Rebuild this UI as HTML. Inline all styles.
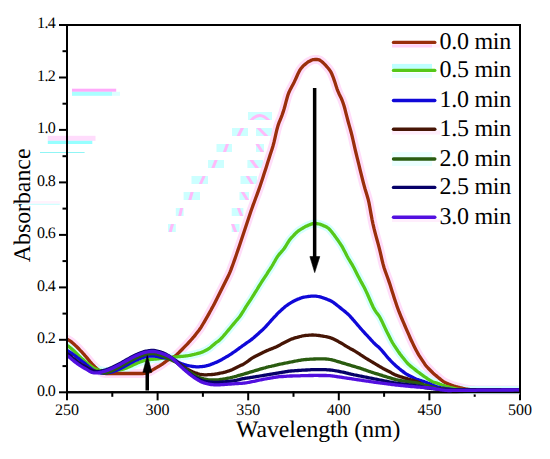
<!DOCTYPE html>
<html><head><meta charset="utf-8"><style>
html,body{margin:0;padding:0;background:#fff;width:550px;height:459px;overflow:hidden}
svg{display:block}
text{text-rendering:geometricPrecision}
</style></head><body>
<svg width="550" height="459" viewBox="0 0 550 459">
<rect width="550" height="459" fill="#fff"/>
<g stroke="none">
<rect x="72" y="88.7" width="44.2" height="3.1" fill="#FFAAFA"/>
<rect x="72" y="91.8" width="40" height="4" fill="#AAFFFF"/>
<rect x="112" y="91.8" width="8" height="4" fill="#DDFFFF"/>
<rect x="47.8" y="135.8" width="47.7" height="5" fill="#FFDCFC"/>
<rect x="47.8" y="140.8" width="44.5" height="3.2" fill="#96FFFF"/>
<rect x="40" y="152" width="44.6" height="1" fill="#90F5F5"/>
<rect x="15.3" y="203.5" width="44.5" height="1.5" fill="#D0FFFF"/>
<rect x="15.3" y="201" width="44.5" height="2.5" fill="#FFF2FC"/>
<defs><clipPath id="gr"><rect x="160" y="112" width="120" height="8"/><rect x="160" y="128" width="120" height="8"/><rect x="160" y="144" width="120" height="8"/><rect x="160" y="160" width="120" height="8"/><rect x="160" y="176" width="120" height="8"/><rect x="160" y="192" width="120" height="8"/><rect x="160" y="208" width="120" height="8"/><rect x="160" y="224" width="120" height="8"/></clipPath></defs>
<rect x="248" y="112" width="24.0" height="8" fill="#CCFFFF"/>
<rect x="232" y="128" width="16.0" height="8" fill="#CCFFFF"/>
<rect x="256" y="128" width="16.0" height="8" fill="#CCFFFF"/>
<rect x="216.5" y="144" width="15.5" height="8" fill="#CCFFFF"/>
<rect x="256" y="144" width="8.0" height="8" fill="#CCFFFF"/>
<rect x="208" y="160" width="16.0" height="8" fill="#CCFFFF"/>
<rect x="247.4" y="160" width="15.6" height="8" fill="#CCFFFF"/>
<rect x="191.5" y="176" width="16.5" height="8" fill="#CCFFFF"/>
<rect x="240.5" y="176" width="16.5" height="8" fill="#CCFFFF"/>
<rect x="183.6" y="192" width="16.4" height="8" fill="#CCFFFF"/>
<rect x="239.5" y="192" width="9.5" height="8" fill="#CCFFFF"/>
<rect x="175.8" y="208" width="7.8" height="8" fill="#CCFFFF"/>
<rect x="231.7" y="208" width="11.7" height="8" fill="#CCFFFF"/>
<rect x="168" y="224" width="7.8" height="8" fill="#CCFFFF"/>
<rect x="231.7" y="224" width="7.8" height="8" fill="#CCFFFF"/>
<g clip-path="url(#gr)" stroke="#FFBAF9" stroke-width="3" fill="none" stroke-linecap="butt">
<path d="M250.6,121 Q259.4,110 269.2,121"/>
<path d="M237.6,137.5 L243.0,126.5"/>
<path d="M256.9,126.5 L267.8,137.5"/>
<path d="M224.0,153.5 L228.0,142.5"/>
<path d="M256.2,142.5 L263.3,153.5"/>
<path d="M212.3,169.5 L216.7,158.5"/>
<path d="M250.2,158.5 L258.3,169.5"/>
<path d="M199.8,185.5 L204.7,174.5"/>
<path d="M246.5,174.5 L253.2,185.5"/>
<path d="M189.4,201.5 L192.5,190.5"/>
<path d="M241.6,190.5 L248.3,201.5"/>
<path d="M179.4,217.5 L181.9,206.5"/>
<path d="M237.9,206.5 L242.1,217.5"/>
<path d="M169.8,233.5 L172.9,222.5"/>
<path d="M232.0,222.5 L236.2,233.5"/>
</g>
</g>
<g stroke="#000" stroke-width="2" fill="none" stroke-linecap="square">
<path d="M67,25 H520 V392.3 H67 Z"/>
<path d="M60,392.3 H67"/>
<path d="M63.5,366.1 H67"/>
<path d="M60,339.8 H67"/>
<path d="M63.5,313.6 H67"/>
<path d="M60,287.4 H67"/>
<path d="M63.5,261.1 H67"/>
<path d="M60,234.9 H67"/>
<path d="M63.5,208.6 H67"/>
<path d="M60,182.4 H67"/>
<path d="M63.5,156.2 H67"/>
<path d="M60,129.9 H67"/>
<path d="M63.5,103.7 H67"/>
<path d="M60,77.5 H67"/>
<path d="M63.5,51.2 H67"/>
<path d="M60,25.0 H67"/>
<path d="M67.0,392.3 V399.3"/>
<path d="M112.3,392.3 V395.8"/>
<path d="M157.6,392.3 V399.3"/>
<path d="M202.9,392.3 V395.8"/>
<path d="M248.2,392.3 V399.3"/>
<path d="M293.5,392.3 V395.8"/>
<path d="M338.8,392.3 V399.3"/>
<path d="M384.1,392.3 V395.8"/>
<path d="M429.4,392.3 V399.3"/>
<path d="M474.7,392.3 V395.8"/>
<path d="M520.0,392.3 V399.3"/>
</g>
<g style="font-family:'Liberation Serif',serif;font-size:16px" fill="#000">
<text x="55" y="395.7" text-anchor="end" letter-spacing="-0.7">0.0</text>
<text x="55" y="343.2" text-anchor="end" letter-spacing="-0.7">0.2</text>
<text x="55" y="290.8" text-anchor="end" letter-spacing="-0.7">0.4</text>
<text x="55" y="238.3" text-anchor="end" letter-spacing="-0.7">0.6</text>
<text x="55" y="185.8" text-anchor="end" letter-spacing="-0.7">0.8</text>
<text x="55" y="133.3" text-anchor="end" letter-spacing="-0.7">1.0</text>
<text x="55" y="80.9" text-anchor="end" letter-spacing="-0.7">1.2</text>
<text x="55" y="28.4" text-anchor="end" letter-spacing="-0.7">1.4</text>
<text x="67.0" y="415" text-anchor="middle">250</text>
<text x="157.6" y="415" text-anchor="middle">300</text>
<text x="248.2" y="415" text-anchor="middle">350</text>
<text x="338.8" y="415" text-anchor="middle">400</text>
<text x="429.4" y="415" text-anchor="middle">450</text>
<text x="520.0" y="415" text-anchor="middle">500</text>
</g>
<defs><clipPath id="pa"><rect x="66" y="20" width="453.5" height="380"/></clipPath></defs>
<g fill="none" stroke-linejoin="round" stroke-linecap="round" clip-path="url(#pa)">
<path stroke="#FFDDF9" stroke-width="9" d="M67.0,339.3 L68.0,339.7 L69.0,340.3 L70.0,340.9 L71.0,341.6 L72.0,342.4 L73.0,343.3 L74.0,344.2 L75.0,345.1 L76.0,346.1 L77.0,347.0 L78.0,348.0 L79.0,349.0 L80.0,350.1 L81.0,351.1 L82.0,352.2 L83.0,353.3 L84.0,354.4 L85.0,355.6 L86.0,356.7 L87.0,357.9 L88.0,359.1 L89.0,360.4 L90.0,361.6 L91.0,362.7 L92.0,363.9 L93.0,364.9 L94.0,365.9 L95.0,366.9 L96.0,367.8 L97.0,368.8 L98.0,369.7 L99.0,370.5 L100.0,371.3 L101.0,372.1 L102.0,372.6 L103.0,373.0 L104.0,373.3 L105.0,373.4 L106.0,373.5 L107.0,373.5 L108.0,373.5 L109.0,373.5 L110.0,373.5 L111.0,373.5 L112.0,373.5 L113.0,373.5 L114.0,373.5 L115.0,373.5 L116.0,373.5 L117.0,373.5 L118.0,373.5 L119.0,373.5 L120.0,373.5 L121.0,373.5 L122.0,373.5 L123.0,373.5 L124.0,373.5 L125.0,373.5 L126.0,373.5 L127.0,373.5 L128.0,373.5 L129.0,373.5 L130.0,373.5 L131.0,373.5 L132.0,373.5 L133.0,373.5 L134.0,373.5 L135.0,373.5 L136.0,373.5 L137.0,373.5 L138.0,373.5 L139.0,373.5 L140.0,373.5 L141.0,373.5 L142.0,373.5 L143.0,373.5 L144.0,373.4 L145.0,373.3 L146.0,373.0 L147.0,372.7 L148.0,372.3 L149.0,371.9 L150.0,371.4 L151.0,370.9 L152.0,370.3 L153.0,369.7 L154.0,369.1 L155.0,368.5 L156.0,367.9 L157.0,367.3 L158.0,366.7 L159.0,366.2 L160.0,365.6 L161.0,364.9 L162.0,364.3 L163.0,363.6 L164.0,362.9 L165.0,362.1 L166.0,361.4 L167.0,360.7 L168.0,360.1 L169.0,359.5 L170.0,359.0 L171.0,358.4 L172.0,357.9 L173.0,357.3 L174.0,356.8 L175.0,356.1 L176.0,355.3 L177.0,354.4 L178.0,353.4 L179.0,352.5 L180.0,351.5 L181.0,350.5 L182.0,349.5 L183.0,348.5 L184.0,347.4 L185.0,346.4 L186.0,345.4 L187.0,344.4 L188.0,343.3 L189.0,342.2 L190.0,341.1 L191.0,340.0 L192.0,338.9 L193.0,337.7 L194.0,336.6 L195.0,335.4 L196.0,334.1 L197.0,332.8 L198.0,331.5 L199.0,330.2 L200.0,328.8 L201.0,327.3 L202.0,325.7 L203.0,324.0 L204.0,322.3 L205.0,320.6 L206.0,318.9 L207.0,317.2 L208.0,315.4 L209.0,313.6 L210.0,311.8 L211.0,310.0 L212.0,308.1 L213.0,306.3 L214.0,304.4 L215.0,302.5 L216.0,300.5 L217.0,298.6 L218.0,296.6 L219.0,294.6 L220.0,292.5 L221.0,290.5 L222.0,288.5 L223.0,286.5 L224.0,284.5 L225.0,282.5 L226.0,280.5 L227.0,278.5 L228.0,276.5 L229.0,274.4 L230.0,272.1 L231.0,269.6 L232.0,266.9 L233.0,264.2 L234.0,261.4 L235.0,258.6 L236.0,255.7 L237.0,252.8 L238.0,249.9 L239.0,246.9 L240.0,243.9 L241.0,240.9 L242.0,237.9 L243.0,234.9 L244.0,231.9 L245.0,228.9 L246.0,225.9 L247.0,222.9 L248.0,219.9 L249.0,216.9 L250.0,213.9 L251.0,211.0 L252.0,208.2 L253.0,205.4 L254.0,202.7 L255.0,200.0 L256.0,197.3 L257.0,194.6 L258.0,191.9 L259.0,189.1 L260.0,186.2 L261.0,183.3 L262.0,180.3 L263.0,177.2 L264.0,174.1 L265.0,171.0 L266.0,167.9 L267.0,164.7 L268.0,161.6 L269.0,158.4 L270.0,155.3 L271.0,152.3 L272.0,149.2 L273.0,145.9 L274.0,142.2 L275.0,137.9 L276.0,133.4 L277.0,129.2 L278.0,125.6 L279.0,122.7 L280.0,120.3 L281.0,117.9 L282.0,115.3 L283.0,112.4 L284.0,109.2 L285.0,105.7 L286.0,101.9 L287.0,98.2 L288.0,94.8 L289.0,92.2 L290.0,90.1 L291.0,88.2 L292.0,86.3 L293.0,84.4 L294.0,82.5 L295.0,80.4 L296.0,78.2 L297.0,76.0 L298.0,73.7 L299.0,71.7 L300.0,69.9 L301.0,68.5 L302.0,67.3 L303.0,66.2 L304.0,65.2 L305.0,64.4 L306.0,63.5 L307.0,62.8 L308.0,62.0 L309.0,61.4 L310.0,60.9 L311.0,60.4 L312.0,60.0 L313.0,59.7 L314.0,59.6 L315.0,59.5 L316.0,59.5 L317.0,59.5 L318.0,59.6 L319.0,59.8 L320.0,60.3 L321.0,61.0 L322.0,61.8 L323.0,62.6 L324.0,63.6 L325.0,64.6 L326.0,65.7 L327.0,66.9 L328.0,68.0 L329.0,69.2 L330.0,70.6 L331.0,72.2 L332.0,74.3 L333.0,76.8 L334.0,79.6 L335.0,82.6 L336.0,85.7 L337.0,88.8 L338.0,91.4 L339.0,93.7 L340.0,95.7 L341.0,97.7 L342.0,100.0 L343.0,102.7 L344.0,105.8 L345.0,109.3 L346.0,113.3 L347.0,117.2 L348.0,121.0 L349.0,124.6 L350.0,128.1 L351.0,131.8 L352.0,135.7 L353.0,140.0 L354.0,144.4 L355.0,148.8 L356.0,153.0 L357.0,157.1 L358.0,161.2 L359.0,165.2 L360.0,169.3 L361.0,173.3 L362.0,177.3 L363.0,181.3 L364.0,185.1 L365.0,188.8 L366.0,192.1 L367.0,195.2 L368.0,198.7 L369.0,202.9 L370.0,208.2 L371.0,213.9 L372.0,219.3 L373.0,224.1 L374.0,228.4 L375.0,232.3 L376.0,236.2 L377.0,239.8 L378.0,243.4 L379.0,247.2 L380.0,251.2 L381.0,255.4 L382.0,259.8 L383.0,263.9 L384.0,267.5 L385.0,270.5 L386.0,273.3 L387.0,276.0 L388.0,278.7 L389.0,281.6 L390.0,284.6 L391.0,287.8 L392.0,291.0 L393.0,294.1 L394.0,297.3 L395.0,300.3 L396.0,303.3 L397.0,306.2 L398.0,309.0 L399.0,311.7 L400.0,314.2 L401.0,316.6 L402.0,319.0 L403.0,321.3 L404.0,323.7 L405.0,326.0 L406.0,328.3 L407.0,330.6 L408.0,332.9 L409.0,335.2 L410.0,337.5 L411.0,339.7 L412.0,341.8 L413.0,343.9 L414.0,345.9 L415.0,347.9 L416.0,349.9 L417.0,351.8 L418.0,353.7 L419.0,355.4 L420.0,356.9 L421.0,358.4 L422.0,359.9 L423.0,361.4 L424.0,362.9 L425.0,364.4 L426.0,365.7 L427.0,366.9 L428.0,368.0 L429.0,369.0 L430.0,370.0 L431.0,371.0 L432.0,372.0 L433.0,373.0 L434.0,373.9 L435.0,374.8 L436.0,375.6 L437.0,376.4 L438.0,377.3 L439.0,378.1 L440.0,378.9 L441.0,379.7 L442.0,380.5 L443.0,381.3 L444.0,381.9 L445.0,382.5 L446.0,382.9 L447.0,383.4 L448.0,383.8 L449.0,384.2 L450.0,384.6 L451.0,385.0 L452.0,385.4 L453.0,385.7 L454.0,386.1 L455.0,386.4 L456.0,386.7 L457.0,386.9 L458.0,387.2 L459.0,387.4 L460.0,387.7 L461.0,387.9 L462.0,388.1 L463.0,388.4 L464.0,388.6 L465.0,388.8 L466.0,389.0 L467.0,389.2 L468.0,389.4 L469.0,389.5 L470.0,389.6 L471.0,389.7 L472.0,389.7 L473.0,389.8 L474.0,389.8 L475.0,389.9 L476.0,389.9 L477.0,389.9 L478.0,389.9 L479.0,389.9 L480.0,389.9 L481.0,389.9 L482.0,389.9 L483.0,389.9 L484.0,389.9 L485.0,389.9 L486.0,389.9 L487.0,389.9 L488.0,389.9 L489.0,389.9 L490.0,389.9 L491.0,389.9 L492.0,389.9 L493.0,389.9 L494.0,389.9 L495.0,389.9 L496.0,389.9 L497.0,389.9 L498.0,389.9 L499.0,389.9 L500.0,389.9 L501.0,389.9 L502.0,389.9 L503.0,389.9 L504.0,389.9 L505.0,389.9 L506.0,389.9 L507.0,389.9 L508.0,389.9 L509.0,389.9 L510.0,389.9 L511.0,389.9 L512.0,389.9 L513.0,389.9 L514.0,389.9 L515.0,389.9 L516.0,389.9 L517.0,389.9 L518.0,389.9 L519.0,389.9 L520.0,389.9"/>
<path stroke="#D6FFFF" stroke-width="8" d="M67.0,345.5 L68.0,346.0 L69.0,346.7 L70.0,347.5 L71.0,348.3 L72.0,349.2 L73.0,350.1 L74.0,351.0 L75.0,352.0 L76.0,353.0 L77.0,354.0 L78.0,355.0 L79.0,356.0 L80.0,356.9 L81.0,357.9 L82.0,358.8 L83.0,359.6 L84.0,360.5 L85.0,361.4 L86.0,362.2 L87.0,363.0 L88.0,363.9 L89.0,364.7 L90.0,365.4 L91.0,366.2 L92.0,366.9 L93.0,367.6 L94.0,368.2 L95.0,368.8 L96.0,369.2 L97.0,369.5 L98.0,369.8 L99.0,370.0 L100.0,370.3 L101.0,370.5 L102.0,370.6 L103.0,370.8 L104.0,370.9 L105.0,371.0 L106.0,371.0 L107.0,371.0 L108.0,371.0 L109.0,371.0 L110.0,370.9 L111.0,370.9 L112.0,370.8 L113.0,370.7 L114.0,370.6 L115.0,370.5 L116.0,370.4 L117.0,370.3 L118.0,370.2 L119.0,370.1 L120.0,369.9 L121.0,369.7 L122.0,369.4 L123.0,369.1 L124.0,368.8 L125.0,368.5 L126.0,368.1 L127.0,367.8 L128.0,367.3 L129.0,366.9 L130.0,366.5 L131.0,366.0 L132.0,365.6 L133.0,365.1 L134.0,364.6 L135.0,364.1 L136.0,363.7 L137.0,363.2 L138.0,362.8 L139.0,362.4 L140.0,362.0 L141.0,361.7 L142.0,361.3 L143.0,361.0 L144.0,360.7 L145.0,360.4 L146.0,360.2 L147.0,359.9 L148.0,359.8 L149.0,359.6 L150.0,359.5 L151.0,359.4 L152.0,359.3 L153.0,359.3 L154.0,359.2 L155.0,359.1 L156.0,359.0 L157.0,358.9 L158.0,358.8 L159.0,358.6 L160.0,358.5 L161.0,358.4 L162.0,358.3 L163.0,358.2 L164.0,358.1 L165.0,358.0 L166.0,357.9 L167.0,357.8 L168.0,357.7 L169.0,357.6 L170.0,357.5 L171.0,357.4 L172.0,357.3 L173.0,357.2 L174.0,357.1 L175.0,357.0 L176.0,356.9 L177.0,356.8 L178.0,356.7 L179.0,356.6 L180.0,356.5 L181.0,356.4 L182.0,356.3 L183.0,356.3 L184.0,356.2 L185.0,356.1 L186.0,355.9 L187.0,355.8 L188.0,355.7 L189.0,355.5 L190.0,355.3 L191.0,355.1 L192.0,354.9 L193.0,354.7 L194.0,354.5 L195.0,354.2 L196.0,354.0 L197.0,353.7 L198.0,353.4 L199.0,353.1 L200.0,352.9 L201.0,352.5 L202.0,352.2 L203.0,351.7 L204.0,351.3 L205.0,350.8 L206.0,350.3 L207.0,349.8 L208.0,349.1 L209.0,348.5 L210.0,347.8 L211.0,347.0 L212.0,346.1 L213.0,345.2 L214.0,344.4 L215.0,343.5 L216.0,342.7 L217.0,342.0 L218.0,341.3 L219.0,340.6 L220.0,339.7 L221.0,338.7 L222.0,337.6 L223.0,336.5 L224.0,335.3 L225.0,334.2 L226.0,333.0 L227.0,331.8 L228.0,330.6 L229.0,329.4 L230.0,328.2 L231.0,327.0 L232.0,325.8 L233.0,324.6 L234.0,323.4 L235.0,322.2 L236.0,321.0 L237.0,319.9 L238.0,318.7 L239.0,317.5 L240.0,316.2 L241.0,314.8 L242.0,313.2 L243.0,311.6 L244.0,310.0 L245.0,308.3 L246.0,306.7 L247.0,305.2 L248.0,303.6 L249.0,302.1 L250.0,300.6 L251.0,299.1 L252.0,297.5 L253.0,295.9 L254.0,294.3 L255.0,292.7 L256.0,291.1 L257.0,289.5 L258.0,287.8 L259.0,286.2 L260.0,284.6 L261.0,283.0 L262.0,281.4 L263.0,279.8 L264.0,278.3 L265.0,276.8 L266.0,275.3 L267.0,273.8 L268.0,272.2 L269.0,270.7 L270.0,269.2 L271.0,267.6 L272.0,266.0 L273.0,264.3 L274.0,262.5 L275.0,260.8 L276.0,259.0 L277.0,257.4 L278.0,255.9 L279.0,254.6 L280.0,253.4 L281.0,252.3 L282.0,251.1 L283.0,250.0 L284.0,248.7 L285.0,247.3 L286.0,245.7 L287.0,244.0 L288.0,242.3 L289.0,240.8 L290.0,239.4 L291.0,238.2 L292.0,237.1 L293.0,236.1 L294.0,235.0 L295.0,234.0 L296.0,232.9 L297.0,232.0 L298.0,231.2 L299.0,230.4 L300.0,229.8 L301.0,229.2 L302.0,228.6 L303.0,228.0 L304.0,227.4 L305.0,226.8 L306.0,226.3 L307.0,225.9 L308.0,225.4 L309.0,225.0 L310.0,224.6 L311.0,224.2 L312.0,223.9 L313.0,223.6 L314.0,223.4 L315.0,223.4 L316.0,223.5 L317.0,223.6 L318.0,223.8 L319.0,224.0 L320.0,224.2 L321.0,224.6 L322.0,225.0 L323.0,225.4 L324.0,225.9 L325.0,226.3 L326.0,226.8 L327.0,227.3 L328.0,228.0 L329.0,228.8 L330.0,229.9 L331.0,231.0 L332.0,232.3 L333.0,233.6 L334.0,234.8 L335.0,236.2 L336.0,237.6 L337.0,239.0 L338.0,240.4 L339.0,241.9 L340.0,243.3 L341.0,244.8 L342.0,246.4 L343.0,248.2 L344.0,250.2 L345.0,252.1 L346.0,254.1 L347.0,256.0 L348.0,257.8 L349.0,259.5 L350.0,261.2 L351.0,262.8 L352.0,264.4 L353.0,266.2 L354.0,268.1 L355.0,270.0 L356.0,272.0 L357.0,274.0 L358.0,275.9 L359.0,277.8 L360.0,279.7 L361.0,281.6 L362.0,283.4 L363.0,285.2 L364.0,287.1 L365.0,289.0 L366.0,291.1 L367.0,293.2 L368.0,295.5 L369.0,297.7 L370.0,300.0 L371.0,302.3 L372.0,304.5 L373.0,306.7 L374.0,308.7 L375.0,310.4 L376.0,311.9 L377.0,313.2 L378.0,314.5 L379.0,315.9 L380.0,317.5 L381.0,319.4 L382.0,321.4 L383.0,323.6 L384.0,325.7 L385.0,327.9 L386.0,330.0 L387.0,332.1 L388.0,334.1 L389.0,336.1 L390.0,338.1 L391.0,340.0 L392.0,341.8 L393.0,343.5 L394.0,345.1 L395.0,346.6 L396.0,348.1 L397.0,349.6 L398.0,351.1 L399.0,352.5 L400.0,354.0 L401.0,355.3 L402.0,356.6 L403.0,357.8 L404.0,359.0 L405.0,360.3 L406.0,361.5 L407.0,362.7 L408.0,363.8 L409.0,364.7 L410.0,365.6 L411.0,366.4 L412.0,367.2 L413.0,368.0 L414.0,368.8 L415.0,369.6 L416.0,370.4 L417.0,371.2 L418.0,372.0 L419.0,372.7 L420.0,373.4 L421.0,374.2 L422.0,374.9 L423.0,375.6 L424.0,376.3 L425.0,377.0 L426.0,377.7 L427.0,378.4 L428.0,379.1 L429.0,379.7 L430.0,380.3 L431.0,380.9 L432.0,381.5 L433.0,382.0 L434.0,382.3 L435.0,382.6 L436.0,382.9 L437.0,383.2 L438.0,383.5 L439.0,383.9 L440.0,384.3 L441.0,384.6 L442.0,385.0 L443.0,385.3 L444.0,385.6 L445.0,386.0 L446.0,386.3 L447.0,386.6 L448.0,386.9 L449.0,387.2 L450.0,387.5 L451.0,387.7 L452.0,387.9 L453.0,388.2 L454.0,388.4 L455.0,388.6 L456.0,388.8 L457.0,389.0 L458.0,389.2 L459.0,389.3 L460.0,389.4 L461.0,389.5 L462.0,389.5 L463.0,389.6 L464.0,389.7 L465.0,389.7 L466.0,389.8 L467.0,389.8 L468.0,389.9 L469.0,389.9 L470.0,389.9 L471.0,389.9 L472.0,389.9 L473.0,389.9 L474.0,389.9 L475.0,389.9 L476.0,389.9 L477.0,389.9 L478.0,389.9 L479.0,389.9 L480.0,389.9 L481.0,389.9 L482.0,389.9 L483.0,389.9 L484.0,389.9 L485.0,389.9 L486.0,389.9 L487.0,389.9 L488.0,389.9 L489.0,389.9 L490.0,389.9 L491.0,389.9 L492.0,389.9 L493.0,389.9 L494.0,389.9 L495.0,389.9 L496.0,389.9 L497.0,389.9 L498.0,389.9 L499.0,389.9 L500.0,389.9 L501.0,389.9 L502.0,389.9 L503.0,389.9 L504.0,389.9 L505.0,389.9 L506.0,389.9 L507.0,389.9 L508.0,389.9 L509.0,389.9 L510.0,389.9 L511.0,389.9 L512.0,389.9 L513.0,389.9 L514.0,389.9 L515.0,389.9 L516.0,389.9 L517.0,389.9 L518.0,389.9 L519.0,389.9 L520.0,389.9"/>
</g>
<path d="M66,392.3 H521" stroke="#000" stroke-width="2" fill="none"/>
<g fill="none" stroke-width="3.3" stroke-linejoin="round" stroke-linecap="butt" clip-path="url(#pa)">
<path stroke="#9A2E0C" d="M67.0,339.3 L68.0,339.7 L69.0,340.3 L70.0,340.9 L71.0,341.6 L72.0,342.4 L73.0,343.3 L74.0,344.2 L75.0,345.1 L76.0,346.1 L77.0,347.0 L78.0,348.0 L79.0,349.0 L80.0,350.1 L81.0,351.1 L82.0,352.2 L83.0,353.3 L84.0,354.4 L85.0,355.6 L86.0,356.7 L87.0,357.9 L88.0,359.1 L89.0,360.4 L90.0,361.6 L91.0,362.7 L92.0,363.9 L93.0,364.9 L94.0,365.9 L95.0,366.9 L96.0,367.8 L97.0,368.8 L98.0,369.7 L99.0,370.5 L100.0,371.3 L101.0,372.1 L102.0,372.6 L103.0,373.0 L104.0,373.3 L105.0,373.4 L106.0,373.5 L107.0,373.5 L108.0,373.5 L109.0,373.5 L110.0,373.5 L111.0,373.5 L112.0,373.5 L113.0,373.5 L114.0,373.5 L115.0,373.5 L116.0,373.5 L117.0,373.5 L118.0,373.5 L119.0,373.5 L120.0,373.5 L121.0,373.5 L122.0,373.5 L123.0,373.5 L124.0,373.5 L125.0,373.5 L126.0,373.5 L127.0,373.5 L128.0,373.5 L129.0,373.5 L130.0,373.5 L131.0,373.5 L132.0,373.5 L133.0,373.5 L134.0,373.5 L135.0,373.5 L136.0,373.5 L137.0,373.5 L138.0,373.5 L139.0,373.5 L140.0,373.5 L141.0,373.5 L142.0,373.5 L143.0,373.5 L144.0,373.4 L145.0,373.3 L146.0,373.0 L147.0,372.7 L148.0,372.3 L149.0,371.9 L150.0,371.4 L151.0,370.9 L152.0,370.3 L153.0,369.7 L154.0,369.1 L155.0,368.5 L156.0,367.9 L157.0,367.3 L158.0,366.7 L159.0,366.2 L160.0,365.6 L161.0,364.9 L162.0,364.3 L163.0,363.6 L164.0,362.9 L165.0,362.1 L166.0,361.4 L167.0,360.7 L168.0,360.1 L169.0,359.5 L170.0,359.0 L171.0,358.4 L172.0,357.9 L173.0,357.3 L174.0,356.8 L175.0,356.1 L176.0,355.3 L177.0,354.4 L178.0,353.4 L179.0,352.5 L180.0,351.5 L181.0,350.5 L182.0,349.5 L183.0,348.5 L184.0,347.4 L185.0,346.4 L186.0,345.4 L187.0,344.4 L188.0,343.3 L189.0,342.2 L190.0,341.1 L191.0,340.0 L192.0,338.9 L193.0,337.7 L194.0,336.6 L195.0,335.4 L196.0,334.1 L197.0,332.8 L198.0,331.5 L199.0,330.2 L200.0,328.8 L201.0,327.3 L202.0,325.7 L203.0,324.0 L204.0,322.3 L205.0,320.6 L206.0,318.9 L207.0,317.2 L208.0,315.4 L209.0,313.6 L210.0,311.8 L211.0,310.0 L212.0,308.1 L213.0,306.3 L214.0,304.4 L215.0,302.5 L216.0,300.5 L217.0,298.6 L218.0,296.6 L219.0,294.6 L220.0,292.5 L221.0,290.5 L222.0,288.5 L223.0,286.5 L224.0,284.5 L225.0,282.5 L226.0,280.5 L227.0,278.5 L228.0,276.5 L229.0,274.4 L230.0,272.1 L231.0,269.6 L232.0,266.9 L233.0,264.2 L234.0,261.4 L235.0,258.6 L236.0,255.7 L237.0,252.8 L238.0,249.9 L239.0,246.9 L240.0,243.9 L241.0,240.9 L242.0,237.9 L243.0,234.9 L244.0,231.9 L245.0,228.9 L246.0,225.9 L247.0,222.9 L248.0,219.9 L249.0,216.9 L250.0,213.9 L251.0,211.0 L252.0,208.2 L253.0,205.4 L254.0,202.7 L255.0,200.0 L256.0,197.3 L257.0,194.6 L258.0,191.9 L259.0,189.1 L260.0,186.2 L261.0,183.3 L262.0,180.3 L263.0,177.2 L264.0,174.1 L265.0,171.0 L266.0,167.9 L267.0,164.7 L268.0,161.6 L269.0,158.4 L270.0,155.3 L271.0,152.3 L272.0,149.2 L273.0,145.9 L274.0,142.2 L275.0,137.9 L276.0,133.4 L277.0,129.2 L278.0,125.6 L279.0,122.7 L280.0,120.3 L281.0,117.9 L282.0,115.3 L283.0,112.4 L284.0,109.2 L285.0,105.7 L286.0,101.9 L287.0,98.2 L288.0,94.8 L289.0,92.2 L290.0,90.1 L291.0,88.2 L292.0,86.3 L293.0,84.4 L294.0,82.5 L295.0,80.4 L296.0,78.2 L297.0,76.0 L298.0,73.7 L299.0,71.7 L300.0,69.9 L301.0,68.5 L302.0,67.3 L303.0,66.2 L304.0,65.2 L305.0,64.4 L306.0,63.5 L307.0,62.8 L308.0,62.0 L309.0,61.4 L310.0,60.9 L311.0,60.4 L312.0,60.0 L313.0,59.7 L314.0,59.6 L315.0,59.5 L316.0,59.5 L317.0,59.5 L318.0,59.6 L319.0,59.8 L320.0,60.3 L321.0,61.0 L322.0,61.8 L323.0,62.6 L324.0,63.6 L325.0,64.6 L326.0,65.7 L327.0,66.9 L328.0,68.0 L329.0,69.2 L330.0,70.6 L331.0,72.2 L332.0,74.3 L333.0,76.8 L334.0,79.6 L335.0,82.6 L336.0,85.7 L337.0,88.8 L338.0,91.4 L339.0,93.7 L340.0,95.7 L341.0,97.7 L342.0,100.0 L343.0,102.7 L344.0,105.8 L345.0,109.3 L346.0,113.3 L347.0,117.2 L348.0,121.0 L349.0,124.6 L350.0,128.1 L351.0,131.8 L352.0,135.7 L353.0,140.0 L354.0,144.4 L355.0,148.8 L356.0,153.0 L357.0,157.1 L358.0,161.2 L359.0,165.2 L360.0,169.3 L361.0,173.3 L362.0,177.3 L363.0,181.3 L364.0,185.1 L365.0,188.8 L366.0,192.1 L367.0,195.2 L368.0,198.7 L369.0,202.9 L370.0,208.2 L371.0,213.9 L372.0,219.3 L373.0,224.1 L374.0,228.4 L375.0,232.3 L376.0,236.2 L377.0,239.8 L378.0,243.4 L379.0,247.2 L380.0,251.2 L381.0,255.4 L382.0,259.8 L383.0,263.9 L384.0,267.5 L385.0,270.5 L386.0,273.3 L387.0,276.0 L388.0,278.7 L389.0,281.6 L390.0,284.6 L391.0,287.8 L392.0,291.0 L393.0,294.1 L394.0,297.3 L395.0,300.3 L396.0,303.3 L397.0,306.2 L398.0,309.0 L399.0,311.7 L400.0,314.2 L401.0,316.6 L402.0,319.0 L403.0,321.3 L404.0,323.7 L405.0,326.0 L406.0,328.3 L407.0,330.6 L408.0,332.9 L409.0,335.2 L410.0,337.5 L411.0,339.7 L412.0,341.8 L413.0,343.9 L414.0,345.9 L415.0,347.9 L416.0,349.9 L417.0,351.8 L418.0,353.7 L419.0,355.4 L420.0,356.9 L421.0,358.4 L422.0,359.9 L423.0,361.4 L424.0,362.9 L425.0,364.4 L426.0,365.7 L427.0,366.9 L428.0,368.0 L429.0,369.0 L430.0,370.0 L431.0,371.0 L432.0,372.0 L433.0,373.0 L434.0,373.9 L435.0,374.8 L436.0,375.6 L437.0,376.4 L438.0,377.3 L439.0,378.1 L440.0,378.9 L441.0,379.7 L442.0,380.5 L443.0,381.3 L444.0,381.9 L445.0,382.5 L446.0,382.9 L447.0,383.4 L448.0,383.8 L449.0,384.2 L450.0,384.6 L451.0,385.0 L452.0,385.4 L453.0,385.7 L454.0,386.1 L455.0,386.4 L456.0,386.7 L457.0,386.9 L458.0,387.2 L459.0,387.4 L460.0,387.7 L461.0,387.9 L462.0,388.1 L463.0,388.4 L464.0,388.6 L465.0,388.8 L466.0,389.0 L467.0,389.2 L468.0,389.4 L469.0,389.5 L470.0,389.6 L471.0,389.7 L472.0,389.7 L473.0,389.8 L474.0,389.8 L475.0,389.9 L476.0,389.9 L477.0,389.9 L478.0,389.9 L479.0,389.9 L480.0,389.9 L481.0,389.9 L482.0,389.9 L483.0,389.9 L484.0,389.9 L485.0,389.9 L486.0,389.9 L487.0,389.9 L488.0,389.9 L489.0,389.9 L490.0,389.9 L491.0,389.9 L492.0,389.9 L493.0,389.9 L494.0,389.9 L495.0,389.9 L496.0,389.9 L497.0,389.9 L498.0,389.9 L499.0,389.9 L500.0,389.9 L501.0,389.9 L502.0,389.9 L503.0,389.9 L504.0,389.9 L505.0,389.9 L506.0,389.9 L507.0,389.9 L508.0,389.9 L509.0,389.9 L510.0,389.9 L511.0,389.9 L512.0,389.9 L513.0,389.9 L514.0,389.9 L515.0,389.9 L516.0,389.9 L517.0,389.9 L518.0,389.9 L519.0,389.9 L520.0,389.9"/>
<path stroke="#55C819" d="M67.0,345.5 L68.0,346.0 L69.0,346.7 L70.0,347.5 L71.0,348.3 L72.0,349.2 L73.0,350.1 L74.0,351.0 L75.0,352.0 L76.0,353.0 L77.0,354.0 L78.0,355.0 L79.0,356.0 L80.0,356.9 L81.0,357.9 L82.0,358.8 L83.0,359.6 L84.0,360.5 L85.0,361.4 L86.0,362.2 L87.0,363.0 L88.0,363.9 L89.0,364.7 L90.0,365.4 L91.0,366.2 L92.0,366.9 L93.0,367.6 L94.0,368.2 L95.0,368.8 L96.0,369.2 L97.0,369.5 L98.0,369.8 L99.0,370.0 L100.0,370.3 L101.0,370.5 L102.0,370.6 L103.0,370.8 L104.0,370.9 L105.0,371.0 L106.0,371.0 L107.0,371.0 L108.0,371.0 L109.0,371.0 L110.0,370.9 L111.0,370.9 L112.0,370.8 L113.0,370.7 L114.0,370.6 L115.0,370.5 L116.0,370.4 L117.0,370.3 L118.0,370.2 L119.0,370.1 L120.0,369.9 L121.0,369.7 L122.0,369.4 L123.0,369.1 L124.0,368.8 L125.0,368.5 L126.0,368.1 L127.0,367.8 L128.0,367.3 L129.0,366.9 L130.0,366.5 L131.0,366.0 L132.0,365.6 L133.0,365.1 L134.0,364.6 L135.0,364.1 L136.0,363.7 L137.0,363.2 L138.0,362.8 L139.0,362.4 L140.0,362.0 L141.0,361.7 L142.0,361.3 L143.0,361.0 L144.0,360.7 L145.0,360.4 L146.0,360.2 L147.0,359.9 L148.0,359.8 L149.0,359.6 L150.0,359.5 L151.0,359.4 L152.0,359.3 L153.0,359.3 L154.0,359.2 L155.0,359.1 L156.0,359.0 L157.0,358.9 L158.0,358.8 L159.0,358.6 L160.0,358.5 L161.0,358.4 L162.0,358.3 L163.0,358.2 L164.0,358.1 L165.0,358.0 L166.0,357.9 L167.0,357.8 L168.0,357.7 L169.0,357.6 L170.0,357.5 L171.0,357.4 L172.0,357.3 L173.0,357.2 L174.0,357.1 L175.0,357.0 L176.0,356.9 L177.0,356.8 L178.0,356.7 L179.0,356.6 L180.0,356.5 L181.0,356.4 L182.0,356.3 L183.0,356.3 L184.0,356.2 L185.0,356.1 L186.0,355.9 L187.0,355.8 L188.0,355.7 L189.0,355.5 L190.0,355.3 L191.0,355.1 L192.0,354.9 L193.0,354.7 L194.0,354.5 L195.0,354.2 L196.0,354.0 L197.0,353.7 L198.0,353.4 L199.0,353.1 L200.0,352.9 L201.0,352.5 L202.0,352.2 L203.0,351.7 L204.0,351.3 L205.0,350.8 L206.0,350.3 L207.0,349.8 L208.0,349.1 L209.0,348.5 L210.0,347.8 L211.0,347.0 L212.0,346.1 L213.0,345.2 L214.0,344.4 L215.0,343.5 L216.0,342.7 L217.0,342.0 L218.0,341.3 L219.0,340.6 L220.0,339.7 L221.0,338.7 L222.0,337.6 L223.0,336.5 L224.0,335.3 L225.0,334.2 L226.0,333.0 L227.0,331.8 L228.0,330.6 L229.0,329.4 L230.0,328.2 L231.0,327.0 L232.0,325.8 L233.0,324.6 L234.0,323.4 L235.0,322.2 L236.0,321.0 L237.0,319.9 L238.0,318.7 L239.0,317.5 L240.0,316.2 L241.0,314.8 L242.0,313.2 L243.0,311.6 L244.0,310.0 L245.0,308.3 L246.0,306.7 L247.0,305.2 L248.0,303.6 L249.0,302.1 L250.0,300.6 L251.0,299.1 L252.0,297.5 L253.0,295.9 L254.0,294.3 L255.0,292.7 L256.0,291.1 L257.0,289.5 L258.0,287.8 L259.0,286.2 L260.0,284.6 L261.0,283.0 L262.0,281.4 L263.0,279.8 L264.0,278.3 L265.0,276.8 L266.0,275.3 L267.0,273.8 L268.0,272.2 L269.0,270.7 L270.0,269.2 L271.0,267.6 L272.0,266.0 L273.0,264.3 L274.0,262.5 L275.0,260.8 L276.0,259.0 L277.0,257.4 L278.0,255.9 L279.0,254.6 L280.0,253.4 L281.0,252.3 L282.0,251.1 L283.0,250.0 L284.0,248.7 L285.0,247.3 L286.0,245.7 L287.0,244.0 L288.0,242.3 L289.0,240.8 L290.0,239.4 L291.0,238.2 L292.0,237.1 L293.0,236.1 L294.0,235.0 L295.0,234.0 L296.0,232.9 L297.0,232.0 L298.0,231.2 L299.0,230.4 L300.0,229.8 L301.0,229.2 L302.0,228.6 L303.0,228.0 L304.0,227.4 L305.0,226.8 L306.0,226.3 L307.0,225.9 L308.0,225.4 L309.0,225.0 L310.0,224.6 L311.0,224.2 L312.0,223.9 L313.0,223.6 L314.0,223.4 L315.0,223.4 L316.0,223.5 L317.0,223.6 L318.0,223.8 L319.0,224.0 L320.0,224.2 L321.0,224.6 L322.0,225.0 L323.0,225.4 L324.0,225.9 L325.0,226.3 L326.0,226.8 L327.0,227.3 L328.0,228.0 L329.0,228.8 L330.0,229.9 L331.0,231.0 L332.0,232.3 L333.0,233.6 L334.0,234.8 L335.0,236.2 L336.0,237.6 L337.0,239.0 L338.0,240.4 L339.0,241.9 L340.0,243.3 L341.0,244.8 L342.0,246.4 L343.0,248.2 L344.0,250.2 L345.0,252.1 L346.0,254.1 L347.0,256.0 L348.0,257.8 L349.0,259.5 L350.0,261.2 L351.0,262.8 L352.0,264.4 L353.0,266.2 L354.0,268.1 L355.0,270.0 L356.0,272.0 L357.0,274.0 L358.0,275.9 L359.0,277.8 L360.0,279.7 L361.0,281.6 L362.0,283.4 L363.0,285.2 L364.0,287.1 L365.0,289.0 L366.0,291.1 L367.0,293.2 L368.0,295.5 L369.0,297.7 L370.0,300.0 L371.0,302.3 L372.0,304.5 L373.0,306.7 L374.0,308.7 L375.0,310.4 L376.0,311.9 L377.0,313.2 L378.0,314.5 L379.0,315.9 L380.0,317.5 L381.0,319.4 L382.0,321.4 L383.0,323.6 L384.0,325.7 L385.0,327.9 L386.0,330.0 L387.0,332.1 L388.0,334.1 L389.0,336.1 L390.0,338.1 L391.0,340.0 L392.0,341.8 L393.0,343.5 L394.0,345.1 L395.0,346.6 L396.0,348.1 L397.0,349.6 L398.0,351.1 L399.0,352.5 L400.0,354.0 L401.0,355.3 L402.0,356.6 L403.0,357.8 L404.0,359.0 L405.0,360.3 L406.0,361.5 L407.0,362.7 L408.0,363.8 L409.0,364.7 L410.0,365.6 L411.0,366.4 L412.0,367.2 L413.0,368.0 L414.0,368.8 L415.0,369.6 L416.0,370.4 L417.0,371.2 L418.0,372.0 L419.0,372.7 L420.0,373.4 L421.0,374.2 L422.0,374.9 L423.0,375.6 L424.0,376.3 L425.0,377.0 L426.0,377.7 L427.0,378.4 L428.0,379.1 L429.0,379.7 L430.0,380.3 L431.0,380.9 L432.0,381.5 L433.0,382.0 L434.0,382.3 L435.0,382.6 L436.0,382.9 L437.0,383.2 L438.0,383.5 L439.0,383.9 L440.0,384.3 L441.0,384.6 L442.0,385.0 L443.0,385.3 L444.0,385.6 L445.0,386.0 L446.0,386.3 L447.0,386.6 L448.0,386.9 L449.0,387.2 L450.0,387.5 L451.0,387.7 L452.0,387.9 L453.0,388.2 L454.0,388.4 L455.0,388.6 L456.0,388.8 L457.0,389.0 L458.0,389.2 L459.0,389.3 L460.0,389.4 L461.0,389.5 L462.0,389.5 L463.0,389.6 L464.0,389.7 L465.0,389.7 L466.0,389.8 L467.0,389.8 L468.0,389.9 L469.0,389.9 L470.0,389.9 L471.0,389.9 L472.0,389.9 L473.0,389.9 L474.0,389.9 L475.0,389.9 L476.0,389.9 L477.0,389.9 L478.0,389.9 L479.0,389.9 L480.0,389.9 L481.0,389.9 L482.0,389.9 L483.0,389.9 L484.0,389.9 L485.0,389.9 L486.0,389.9 L487.0,389.9 L488.0,389.9 L489.0,389.9 L490.0,389.9 L491.0,389.9 L492.0,389.9 L493.0,389.9 L494.0,389.9 L495.0,389.9 L496.0,389.9 L497.0,389.9 L498.0,389.9 L499.0,389.9 L500.0,389.9 L501.0,389.9 L502.0,389.9 L503.0,389.9 L504.0,389.9 L505.0,389.9 L506.0,389.9 L507.0,389.9 L508.0,389.9 L509.0,389.9 L510.0,389.9 L511.0,389.9 L512.0,389.9 L513.0,389.9 L514.0,389.9 L515.0,389.9 L516.0,389.9 L517.0,389.9 L518.0,389.9 L519.0,389.9 L520.0,389.9"/>
<path stroke="#1008D8" d="M67.0,350.6 L68.0,351.0 L69.0,351.6 L70.0,352.2 L71.0,352.8 L72.0,353.6 L73.0,354.3 L74.0,355.0 L75.0,355.8 L76.0,356.6 L77.0,357.4 L78.0,358.1 L79.0,358.9 L80.0,359.7 L81.0,360.5 L82.0,361.3 L83.0,362.0 L84.0,362.8 L85.0,363.6 L86.0,364.5 L87.0,365.3 L88.0,366.2 L89.0,367.0 L90.0,367.8 L91.0,368.6 L92.0,369.3 L93.0,370.0 L94.0,370.6 L95.0,371.2 L96.0,371.7 L97.0,372.1 L98.0,372.4 L99.0,372.7 L100.0,372.9 L101.0,373.0 L102.0,373.1 L103.0,373.1 L104.0,373.1 L105.0,373.0 L106.0,372.9 L107.0,372.8 L108.0,372.7 L109.0,372.5 L110.0,372.3 L111.0,372.1 L112.0,371.9 L113.0,371.6 L114.0,371.2 L115.0,370.9 L116.0,370.5 L117.0,370.2 L118.0,369.8 L119.0,369.3 L120.0,368.8 L121.0,368.3 L122.0,367.8 L123.0,367.2 L124.0,366.7 L125.0,366.1 L126.0,365.5 L127.0,365.0 L128.0,364.4 L129.0,363.9 L130.0,363.3 L131.0,362.8 L132.0,362.3 L133.0,361.8 L134.0,361.3 L135.0,360.8 L136.0,360.3 L137.0,359.9 L138.0,359.4 L139.0,359.0 L140.0,358.6 L141.0,358.2 L142.0,357.9 L143.0,357.5 L144.0,357.2 L145.0,356.9 L146.0,356.7 L147.0,356.5 L148.0,356.3 L149.0,356.2 L150.0,356.1 L151.0,356.0 L152.0,356.0 L153.0,356.0 L154.0,356.0 L155.0,356.1 L156.0,356.3 L157.0,356.5 L158.0,356.7 L159.0,357.0 L160.0,357.2 L161.0,357.4 L162.0,357.5 L163.0,357.7 L164.0,357.8 L165.0,357.9 L166.0,358.0 L167.0,358.0 L168.0,358.0 L169.0,358.1 L170.0,358.2 L171.0,358.3 L172.0,358.6 L173.0,359.0 L174.0,359.5 L175.0,360.1 L176.0,360.7 L177.0,361.4 L178.0,362.0 L179.0,362.6 L180.0,363.1 L181.0,363.5 L182.0,363.9 L183.0,364.2 L184.0,364.5 L185.0,364.8 L186.0,365.1 L187.0,365.4 L188.0,365.6 L189.0,365.8 L190.0,366.0 L191.0,366.2 L192.0,366.4 L193.0,366.5 L194.0,366.6 L195.0,366.7 L196.0,366.8 L197.0,366.8 L198.0,366.8 L199.0,366.8 L200.0,366.7 L201.0,366.7 L202.0,366.6 L203.0,366.4 L204.0,366.3 L205.0,366.1 L206.0,365.9 L207.0,365.6 L208.0,365.4 L209.0,365.1 L210.0,364.8 L211.0,364.4 L212.0,364.0 L213.0,363.6 L214.0,363.2 L215.0,362.8 L216.0,362.4 L217.0,361.9 L218.0,361.4 L219.0,360.9 L220.0,360.4 L221.0,359.9 L222.0,359.4 L223.0,358.8 L224.0,358.3 L225.0,357.7 L226.0,357.1 L227.0,356.6 L228.0,356.0 L229.0,355.3 L230.0,354.7 L231.0,354.1 L232.0,353.4 L233.0,352.7 L234.0,352.0 L235.0,351.3 L236.0,350.6 L237.0,349.9 L238.0,349.2 L239.0,348.4 L240.0,347.7 L241.0,347.0 L242.0,346.2 L243.0,345.5 L244.0,344.8 L245.0,344.1 L246.0,343.4 L247.0,342.7 L248.0,342.0 L249.0,341.3 L250.0,340.6 L251.0,339.9 L252.0,339.1 L253.0,338.3 L254.0,337.5 L255.0,336.6 L256.0,335.7 L257.0,334.8 L258.0,333.9 L259.0,333.0 L260.0,332.1 L261.0,331.2 L262.0,330.3 L263.0,329.4 L264.0,328.4 L265.0,327.4 L266.0,326.3 L267.0,325.2 L268.0,324.1 L269.0,323.0 L270.0,321.9 L271.0,320.7 L272.0,319.6 L273.0,318.5 L274.0,317.4 L275.0,316.3 L276.0,315.3 L277.0,314.2 L278.0,313.2 L279.0,312.2 L280.0,311.3 L281.0,310.3 L282.0,309.4 L283.0,308.5 L284.0,307.7 L285.0,306.8 L286.0,306.0 L287.0,305.3 L288.0,304.6 L289.0,303.9 L290.0,303.3 L291.0,302.7 L292.0,302.1 L293.0,301.5 L294.0,301.0 L295.0,300.5 L296.0,300.0 L297.0,299.6 L298.0,299.1 L299.0,298.8 L300.0,298.4 L301.0,298.0 L302.0,297.7 L303.0,297.4 L304.0,297.2 L305.0,297.0 L306.0,296.8 L307.0,296.7 L308.0,296.5 L309.0,296.4 L310.0,296.3 L311.0,296.2 L312.0,296.2 L313.0,296.1 L314.0,296.1 L315.0,296.1 L316.0,296.2 L317.0,296.3 L318.0,296.5 L319.0,296.7 L320.0,296.9 L321.0,297.2 L322.0,297.5 L323.0,297.8 L324.0,298.2 L325.0,298.5 L326.0,298.9 L327.0,299.3 L328.0,299.7 L329.0,300.1 L330.0,300.6 L331.0,301.1 L332.0,301.6 L333.0,302.2 L334.0,302.9 L335.0,303.7 L336.0,304.4 L337.0,305.2 L338.0,306.0 L339.0,306.8 L340.0,307.6 L341.0,308.4 L342.0,309.2 L343.0,310.0 L344.0,310.8 L345.0,311.6 L346.0,312.5 L347.0,313.3 L348.0,314.2 L349.0,315.2 L350.0,316.2 L351.0,317.3 L352.0,318.4 L353.0,319.6 L354.0,320.7 L355.0,321.9 L356.0,323.0 L357.0,324.2 L358.0,325.4 L359.0,326.5 L360.0,327.7 L361.0,328.9 L362.0,330.0 L363.0,331.1 L364.0,332.2 L365.0,333.3 L366.0,334.4 L367.0,335.4 L368.0,336.5 L369.0,337.6 L370.0,338.7 L371.0,339.8 L372.0,340.9 L373.0,342.0 L374.0,343.1 L375.0,344.0 L376.0,344.9 L377.0,345.8 L378.0,346.6 L379.0,347.5 L380.0,348.5 L381.0,349.6 L382.0,350.7 L383.0,351.9 L384.0,353.1 L385.0,354.3 L386.0,355.5 L387.0,356.7 L388.0,357.9 L389.0,359.0 L390.0,360.0 L391.0,361.1 L392.0,362.1 L393.0,363.1 L394.0,364.1 L395.0,365.0 L396.0,365.9 L397.0,366.8 L398.0,367.6 L399.0,368.5 L400.0,369.3 L401.0,370.1 L402.0,370.8 L403.0,371.6 L404.0,372.4 L405.0,373.1 L406.0,373.8 L407.0,374.4 L408.0,375.0 L409.0,375.6 L410.0,376.1 L411.0,376.6 L412.0,377.1 L413.0,377.6 L414.0,378.1 L415.0,378.5 L416.0,379.0 L417.0,379.4 L418.0,379.7 L419.0,380.0 L420.0,380.4 L421.0,380.7 L422.0,381.0 L423.0,381.3 L424.0,381.6 L425.0,382.0 L426.0,382.3 L427.0,382.7 L428.0,383.2 L429.0,383.6 L430.0,384.1 L431.0,384.5 L432.0,385.0 L433.0,385.4 L434.0,385.8 L435.0,386.2 L436.0,386.5 L437.0,386.8 L438.0,387.1 L439.0,387.3 L440.0,387.5 L441.0,387.8 L442.0,388.0 L443.0,388.2 L444.0,388.4 L445.0,388.5 L446.0,388.7 L447.0,388.8 L448.0,389.0 L449.0,389.1 L450.0,389.2 L451.0,389.4 L452.0,389.5 L453.0,389.6 L454.0,389.7 L455.0,389.8 L456.0,389.8 L457.0,389.9 L458.0,389.9 L459.0,389.9 L460.0,389.9 L461.0,389.9 L462.0,389.9 L463.0,389.9 L464.0,389.9 L465.0,389.9 L466.0,389.9 L467.0,389.9 L468.0,389.9 L469.0,389.9 L470.0,389.9 L471.0,389.9 L472.0,389.9 L473.0,389.9 L474.0,389.9 L475.0,389.9 L476.0,389.9 L477.0,389.9 L478.0,389.9 L479.0,389.9 L480.0,389.9 L481.0,389.9 L482.0,389.9 L483.0,389.9 L484.0,389.9 L485.0,389.9 L486.0,389.9 L487.0,389.9 L488.0,389.9 L489.0,389.9 L490.0,389.9 L491.0,389.9 L492.0,389.9 L493.0,389.9 L494.0,389.9 L495.0,389.9 L496.0,389.9 L497.0,389.9 L498.0,389.9 L499.0,389.9 L500.0,389.9 L501.0,389.9 L502.0,389.9 L503.0,389.9 L504.0,389.9 L505.0,389.9 L506.0,389.9 L507.0,389.9 L508.0,389.9 L509.0,389.9 L510.0,389.9 L511.0,389.9 L512.0,389.9 L513.0,389.9 L514.0,389.9 L515.0,389.9 L516.0,389.9 L517.0,389.9 L518.0,389.9 L519.0,389.9 L520.0,389.9"/>
<path stroke="#461505" d="M67.0,353.6 L68.0,354.2 L69.0,354.9 L70.0,355.7 L71.0,356.6 L72.0,357.5 L73.0,358.3 L74.0,359.1 L75.0,359.9 L76.0,360.7 L77.0,361.4 L78.0,362.2 L79.0,362.9 L80.0,363.5 L81.0,364.2 L82.0,364.8 L83.0,365.4 L84.0,366.0 L85.0,366.5 L86.0,367.1 L87.0,367.7 L88.0,368.3 L89.0,368.9 L90.0,369.5 L91.0,370.0 L92.0,370.4 L93.0,370.8 L94.0,371.1 L95.0,371.2 L96.0,371.3 L97.0,371.4 L98.0,371.5 L99.0,371.6 L100.0,371.8 L101.0,371.9 L102.0,372.1 L103.0,372.3 L104.0,372.3 L105.0,372.3 L106.0,372.1 L107.0,371.9 L108.0,371.6 L109.0,371.2 L110.0,370.8 L111.0,370.4 L112.0,370.0 L113.0,369.5 L114.0,369.0 L115.0,368.5 L116.0,368.0 L117.0,367.5 L118.0,367.0 L119.0,366.5 L120.0,365.9 L121.0,365.4 L122.0,364.8 L123.0,364.2 L124.0,363.7 L125.0,363.1 L126.0,362.5 L127.0,362.0 L128.0,361.4 L129.0,360.9 L130.0,360.3 L131.0,359.8 L132.0,359.3 L133.0,358.8 L134.0,358.3 L135.0,357.8 L136.0,357.3 L137.0,356.9 L138.0,356.4 L139.0,356.0 L140.0,355.6 L141.0,355.2 L142.0,354.9 L143.0,354.5 L144.0,354.2 L145.0,353.9 L146.0,353.7 L147.0,353.5 L148.0,353.3 L149.0,353.2 L150.0,353.1 L151.0,353.0 L152.0,353.0 L153.0,353.0 L154.0,353.0 L155.0,353.1 L156.0,353.3 L157.0,353.5 L158.0,353.8 L159.0,354.1 L160.0,354.4 L161.0,354.7 L162.0,355.0 L163.0,355.4 L164.0,355.7 L165.0,356.1 L166.0,356.6 L167.0,357.0 L168.0,357.5 L169.0,358.0 L170.0,358.5 L171.0,359.0 L172.0,359.5 L173.0,360.0 L174.0,360.5 L175.0,361.0 L176.0,361.5 L177.0,362.1 L178.0,362.8 L179.0,363.5 L180.0,364.1 L181.0,364.9 L182.0,365.6 L183.0,366.3 L184.0,367.0 L185.0,367.7 L186.0,368.3 L187.0,368.9 L188.0,369.5 L189.0,370.0 L190.0,370.6 L191.0,371.1 L192.0,371.5 L193.0,372.0 L194.0,372.4 L195.0,372.8 L196.0,373.1 L197.0,373.4 L198.0,373.8 L199.0,374.0 L200.0,374.3 L201.0,374.5 L202.0,374.6 L203.0,374.7 L204.0,374.8 L205.0,374.8 L206.0,374.8 L207.0,374.8 L208.0,374.7 L209.0,374.7 L210.0,374.6 L211.0,374.6 L212.0,374.5 L213.0,374.4 L214.0,374.3 L215.0,374.1 L216.0,374.0 L217.0,373.8 L218.0,373.6 L219.0,373.5 L220.0,373.2 L221.0,373.0 L222.0,372.8 L223.0,372.6 L224.0,372.3 L225.0,372.1 L226.0,371.8 L227.0,371.5 L228.0,371.2 L229.0,370.9 L230.0,370.5 L231.0,370.1 L232.0,369.7 L233.0,369.2 L234.0,368.7 L235.0,368.2 L236.0,367.7 L237.0,367.2 L238.0,366.7 L239.0,366.3 L240.0,365.8 L241.0,365.3 L242.0,364.9 L243.0,364.4 L244.0,363.8 L245.0,363.2 L246.0,362.5 L247.0,361.8 L248.0,361.1 L249.0,360.4 L250.0,359.6 L251.0,358.9 L252.0,358.2 L253.0,357.6 L254.0,357.0 L255.0,356.5 L256.0,355.9 L257.0,355.4 L258.0,354.9 L259.0,354.4 L260.0,353.9 L261.0,353.4 L262.0,352.9 L263.0,352.4 L264.0,352.0 L265.0,351.5 L266.0,351.1 L267.0,350.6 L268.0,350.2 L269.0,349.8 L270.0,349.4 L271.0,349.0 L272.0,348.6 L273.0,348.2 L274.0,347.8 L275.0,347.4 L276.0,347.0 L277.0,346.5 L278.0,346.0 L279.0,345.4 L280.0,344.9 L281.0,344.3 L282.0,343.7 L283.0,343.2 L284.0,342.7 L285.0,342.2 L286.0,341.7 L287.0,341.2 L288.0,340.7 L289.0,340.2 L290.0,339.7 L291.0,339.3 L292.0,338.9 L293.0,338.6 L294.0,338.2 L295.0,337.9 L296.0,337.6 L297.0,337.4 L298.0,337.1 L299.0,336.8 L300.0,336.5 L301.0,336.3 L302.0,336.0 L303.0,335.8 L304.0,335.7 L305.0,335.5 L306.0,335.4 L307.0,335.4 L308.0,335.3 L309.0,335.2 L310.0,335.1 L311.0,335.1 L312.0,335.0 L313.0,335.0 L314.0,335.1 L315.0,335.1 L316.0,335.2 L317.0,335.3 L318.0,335.4 L319.0,335.5 L320.0,335.6 L321.0,335.8 L322.0,336.0 L323.0,336.1 L324.0,336.3 L325.0,336.5 L326.0,336.7 L327.0,336.9 L328.0,337.1 L329.0,337.3 L330.0,337.6 L331.0,338.0 L332.0,338.4 L333.0,338.8 L334.0,339.3 L335.0,339.8 L336.0,340.3 L337.0,340.8 L338.0,341.3 L339.0,341.9 L340.0,342.4 L341.0,343.0 L342.0,343.5 L343.0,344.2 L344.0,344.8 L345.0,345.5 L346.0,346.1 L347.0,346.7 L348.0,347.3 L349.0,347.8 L350.0,348.4 L351.0,348.9 L352.0,349.4 L353.0,350.0 L354.0,350.6 L355.0,351.2 L356.0,351.8 L357.0,352.4 L358.0,353.1 L359.0,353.7 L360.0,354.4 L361.0,355.1 L362.0,355.7 L363.0,356.4 L364.0,357.0 L365.0,357.7 L366.0,358.3 L367.0,358.9 L368.0,359.5 L369.0,360.1 L370.0,360.7 L371.0,361.3 L372.0,361.9 L373.0,362.5 L374.0,363.1 L375.0,363.7 L376.0,364.3 L377.0,364.9 L378.0,365.5 L379.0,366.1 L380.0,366.7 L381.0,367.2 L382.0,367.8 L383.0,368.4 L384.0,368.9 L385.0,369.5 L386.0,370.0 L387.0,370.5 L388.0,371.1 L389.0,371.6 L390.0,372.1 L391.0,372.6 L392.0,373.2 L393.0,373.7 L394.0,374.2 L395.0,374.7 L396.0,375.1 L397.0,375.5 L398.0,375.9 L399.0,376.2 L400.0,376.6 L401.0,376.9 L402.0,377.2 L403.0,377.5 L404.0,377.8 L405.0,378.1 L406.0,378.4 L407.0,378.7 L408.0,379.0 L409.0,379.3 L410.0,379.6 L411.0,379.9 L412.0,380.1 L413.0,380.4 L414.0,380.7 L415.0,381.1 L416.0,381.4 L417.0,381.7 L418.0,382.1 L419.0,382.6 L420.0,383.1 L421.0,383.7 L422.0,384.4 L423.0,385.0 L424.0,385.5 L425.0,386.0 L426.0,386.4 L427.0,386.7 L428.0,387.0 L429.0,387.2 L430.0,387.3 L431.0,387.5 L432.0,387.7 L433.0,387.8 L434.0,388.0 L435.0,388.2 L436.0,388.3 L437.0,388.5 L438.0,388.6 L439.0,388.8 L440.0,388.9 L441.0,389.0 L442.0,389.1 L443.0,389.2 L444.0,389.2 L445.0,389.3 L446.0,389.4 L447.0,389.4 L448.0,389.5 L449.0,389.5 L450.0,389.6 L451.0,389.7 L452.0,389.7 L453.0,389.8 L454.0,389.8 L455.0,389.8 L456.0,389.9 L457.0,389.9 L458.0,389.9 L459.0,389.9 L460.0,389.9 L461.0,389.9 L462.0,389.9 L463.0,389.9 L464.0,389.9 L465.0,389.9 L466.0,389.9 L467.0,389.9 L468.0,389.9 L469.0,389.9 L470.0,389.9 L471.0,389.9 L472.0,389.9 L473.0,389.9 L474.0,389.9 L475.0,389.9 L476.0,389.9 L477.0,389.9 L478.0,389.9 L479.0,389.9 L480.0,389.9 L481.0,389.9 L482.0,389.9 L483.0,389.9 L484.0,389.9 L485.0,389.9 L486.0,389.9 L487.0,389.9 L488.0,389.9 L489.0,389.9 L490.0,389.9 L491.0,389.9 L492.0,389.9 L493.0,389.9 L494.0,389.9 L495.0,389.9 L496.0,389.9 L497.0,389.9 L498.0,389.9 L499.0,389.9 L500.0,389.9 L501.0,389.9 L502.0,389.9 L503.0,389.9 L504.0,389.9 L505.0,389.9 L506.0,389.9 L507.0,389.9 L508.0,389.9 L509.0,389.9 L510.0,389.9 L511.0,389.9 L512.0,389.9 L513.0,389.9 L514.0,389.9 L515.0,389.9 L516.0,389.9 L517.0,389.9 L518.0,389.9 L519.0,389.9 L520.0,389.9"/>
<path stroke="#2A5C10" d="M67.0,354.6 L68.0,355.2 L69.0,355.9 L70.0,356.7 L71.0,357.6 L72.0,358.5 L73.0,359.3 L74.0,360.1 L75.0,360.9 L76.0,361.7 L77.0,362.4 L78.0,363.2 L79.0,363.9 L80.0,364.5 L81.0,365.2 L82.0,365.8 L83.0,366.4 L84.0,367.0 L85.0,367.5 L86.0,368.1 L87.0,368.7 L88.0,369.3 L89.0,369.9 L90.0,370.4 L91.0,371.0 L92.0,371.4 L93.0,371.7 L94.0,372.0 L95.0,372.1 L96.0,372.1 L97.0,372.1 L98.0,372.2 L99.0,372.2 L100.0,372.4 L101.0,372.5 L102.0,372.7 L103.0,372.9 L104.0,373.0 L105.0,373.0 L106.0,372.8 L107.0,372.6 L108.0,372.3 L109.0,371.9 L110.0,371.5 L111.0,371.1 L112.0,370.7 L113.0,370.2 L114.0,369.7 L115.0,369.2 L116.0,368.7 L117.0,368.2 L118.0,367.7 L119.0,367.2 L120.0,366.6 L121.0,366.1 L122.0,365.5 L123.0,364.9 L124.0,364.4 L125.0,363.8 L126.0,363.2 L127.0,362.7 L128.0,362.1 L129.0,361.6 L130.0,361.0 L131.0,360.5 L132.0,360.0 L133.0,359.5 L134.0,359.0 L135.0,358.5 L136.0,358.0 L137.0,357.6 L138.0,357.1 L139.0,356.7 L140.0,356.3 L141.0,355.9 L142.0,355.6 L143.0,355.2 L144.0,354.9 L145.0,354.6 L146.0,354.4 L147.0,354.2 L148.0,354.0 L149.0,353.9 L150.0,353.8 L151.0,353.7 L152.0,353.7 L153.0,353.7 L154.0,353.7 L155.0,353.8 L156.0,354.0 L157.0,354.2 L158.0,354.5 L159.0,354.8 L160.0,355.1 L161.0,355.4 L162.0,355.7 L163.0,356.1 L164.0,356.5 L165.0,356.9 L166.0,357.4 L167.0,357.9 L168.0,358.4 L169.0,358.9 L170.0,359.3 L171.0,359.8 L172.0,360.3 L173.0,360.7 L174.0,361.2 L175.0,361.7 L176.0,362.3 L177.0,362.9 L178.0,363.6 L179.0,364.3 L180.0,365.0 L181.0,365.8 L182.0,366.5 L183.0,367.2 L184.0,368.0 L185.0,368.7 L186.0,369.4 L187.0,370.2 L188.0,370.9 L189.0,371.6 L190.0,372.2 L191.0,372.9 L192.0,373.6 L193.0,374.2 L194.0,374.8 L195.0,375.4 L196.0,375.9 L197.0,376.4 L198.0,376.9 L199.0,377.3 L200.0,377.7 L201.0,378.1 L202.0,378.4 L203.0,378.7 L204.0,379.0 L205.0,379.2 L206.0,379.4 L207.0,379.5 L208.0,379.7 L209.0,379.8 L210.0,379.9 L211.0,379.9 L212.0,379.9 L213.0,379.9 L214.0,379.9 L215.0,379.9 L216.0,379.9 L217.0,379.8 L218.0,379.8 L219.0,379.7 L220.0,379.5 L221.0,379.4 L222.0,379.3 L223.0,379.1 L224.0,379.0 L225.0,378.8 L226.0,378.6 L227.0,378.4 L228.0,378.2 L229.0,378.0 L230.0,377.8 L231.0,377.5 L232.0,377.3 L233.0,377.0 L234.0,376.8 L235.0,376.5 L236.0,376.3 L237.0,376.0 L238.0,375.7 L239.0,375.4 L240.0,375.2 L241.0,374.9 L242.0,374.6 L243.0,374.3 L244.0,374.0 L245.0,373.7 L246.0,373.4 L247.0,373.1 L248.0,372.8 L249.0,372.5 L250.0,372.2 L251.0,371.9 L252.0,371.6 L253.0,371.3 L254.0,371.0 L255.0,370.7 L256.0,370.4 L257.0,370.1 L258.0,369.8 L259.0,369.5 L260.0,369.2 L261.0,368.9 L262.0,368.6 L263.0,368.3 L264.0,368.0 L265.0,367.8 L266.0,367.5 L267.0,367.2 L268.0,367.0 L269.0,366.7 L270.0,366.5 L271.0,366.3 L272.0,366.0 L273.0,365.8 L274.0,365.6 L275.0,365.3 L276.0,365.1 L277.0,364.9 L278.0,364.6 L279.0,364.4 L280.0,364.2 L281.0,364.0 L282.0,363.8 L283.0,363.6 L284.0,363.4 L285.0,363.2 L286.0,363.0 L287.0,362.8 L288.0,362.6 L289.0,362.4 L290.0,362.2 L291.0,362.0 L292.0,361.8 L293.0,361.6 L294.0,361.4 L295.0,361.2 L296.0,361.0 L297.0,360.8 L298.0,360.6 L299.0,360.4 L300.0,360.3 L301.0,360.1 L302.0,359.9 L303.0,359.8 L304.0,359.7 L305.0,359.6 L306.0,359.5 L307.0,359.4 L308.0,359.4 L309.0,359.3 L310.0,359.2 L311.0,359.2 L312.0,359.1 L313.0,359.1 L314.0,359.0 L315.0,359.0 L316.0,358.9 L317.0,358.9 L318.0,358.9 L319.0,358.9 L320.0,358.9 L321.0,358.8 L322.0,358.8 L323.0,358.8 L324.0,358.9 L325.0,358.9 L326.0,359.0 L327.0,359.1 L328.0,359.2 L329.0,359.3 L330.0,359.5 L331.0,359.7 L332.0,359.9 L333.0,360.2 L334.0,360.4 L335.0,360.7 L336.0,361.0 L337.0,361.3 L338.0,361.6 L339.0,361.9 L340.0,362.2 L341.0,362.5 L342.0,362.8 L343.0,363.1 L344.0,363.4 L345.0,363.7 L346.0,364.0 L347.0,364.3 L348.0,364.6 L349.0,364.9 L350.0,365.2 L351.0,365.5 L352.0,365.8 L353.0,366.1 L354.0,366.4 L355.0,366.7 L356.0,367.0 L357.0,367.3 L358.0,367.6 L359.0,367.9 L360.0,368.2 L361.0,368.5 L362.0,368.9 L363.0,369.2 L364.0,369.6 L365.0,369.9 L366.0,370.3 L367.0,370.7 L368.0,371.0 L369.0,371.4 L370.0,371.7 L371.0,372.0 L372.0,372.3 L373.0,372.7 L374.0,373.0 L375.0,373.3 L376.0,373.6 L377.0,373.9 L378.0,374.2 L379.0,374.5 L380.0,374.8 L381.0,375.1 L382.0,375.4 L383.0,375.8 L384.0,376.1 L385.0,376.4 L386.0,376.7 L387.0,377.0 L388.0,377.3 L389.0,377.6 L390.0,377.9 L391.0,378.2 L392.0,378.5 L393.0,378.8 L394.0,379.1 L395.0,379.4 L396.0,379.7 L397.0,379.9 L398.0,380.1 L399.0,380.3 L400.0,380.5 L401.0,380.6 L402.0,380.8 L403.0,380.9 L404.0,381.1 L405.0,381.2 L406.0,381.4 L407.0,381.5 L408.0,381.7 L409.0,381.8 L410.0,382.0 L411.0,382.1 L412.0,382.3 L413.0,382.4 L414.0,382.6 L415.0,382.7 L416.0,382.9 L417.0,383.0 L418.0,383.2 L419.0,383.4 L420.0,383.7 L421.0,383.9 L422.0,384.2 L423.0,384.5 L424.0,384.8 L425.0,385.0 L426.0,385.3 L427.0,385.6 L428.0,385.9 L429.0,386.2 L430.0,386.5 L431.0,386.7 L432.0,387.0 L433.0,387.3 L434.0,387.6 L435.0,387.9 L436.0,388.2 L437.0,388.4 L438.0,388.7 L439.0,388.9 L440.0,389.1 L441.0,389.2 L442.0,389.3 L443.0,389.4 L444.0,389.5 L445.0,389.5 L446.0,389.5 L447.0,389.6 L448.0,389.6 L449.0,389.7 L450.0,389.7 L451.0,389.7 L452.0,389.8 L453.0,389.8 L454.0,389.8 L455.0,389.9 L456.0,389.9 L457.0,389.9 L458.0,389.9 L459.0,389.9 L460.0,389.9 L461.0,389.9 L462.0,389.9 L463.0,389.9 L464.0,389.9 L465.0,389.9 L466.0,389.9 L467.0,389.9 L468.0,389.9 L469.0,389.9 L470.0,389.9 L471.0,389.9 L472.0,389.9 L473.0,389.9 L474.0,389.9 L475.0,389.9 L476.0,389.9 L477.0,389.9 L478.0,389.9 L479.0,389.9 L480.0,389.9 L481.0,389.9 L482.0,389.9 L483.0,389.9 L484.0,389.9 L485.0,389.9 L486.0,389.9 L487.0,389.9 L488.0,389.9 L489.0,389.9 L490.0,389.9 L491.0,389.9 L492.0,389.9 L493.0,389.9 L494.0,389.9 L495.0,389.9 L496.0,389.9 L497.0,389.9 L498.0,389.9 L499.0,389.9 L500.0,389.9 L501.0,389.9 L502.0,389.9 L503.0,389.9 L504.0,389.9 L505.0,389.9 L506.0,389.9 L507.0,389.9 L508.0,389.9 L509.0,389.9 L510.0,389.9 L511.0,389.9 L512.0,389.9 L513.0,389.9 L514.0,389.9 L515.0,389.9 L516.0,389.9 L517.0,389.9 L518.0,389.9 L519.0,389.9 L520.0,389.9"/>
<path stroke="#060068" d="M67.0,354.1 L68.0,354.7 L69.0,355.4 L70.0,356.2 L71.0,357.1 L72.0,358.0 L73.0,358.8 L74.0,359.6 L75.0,360.4 L76.0,361.2 L77.0,361.9 L78.0,362.7 L79.0,363.4 L80.0,364.0 L81.0,364.7 L82.0,365.3 L83.0,365.9 L84.0,366.5 L85.0,367.0 L86.0,367.6 L87.0,368.2 L88.0,368.8 L89.0,369.4 L90.0,369.9 L91.0,370.5 L92.0,370.9 L93.0,371.3 L94.0,371.5 L95.0,371.6 L96.0,371.7 L97.0,371.6 L98.0,371.6 L99.0,371.5 L100.0,371.4 L101.0,371.2 L102.0,370.9 L103.0,370.7 L104.0,370.4 L105.0,370.1 L106.0,369.8 L107.0,369.4 L108.0,369.1 L109.0,368.7 L110.0,368.3 L111.0,367.9 L112.0,367.5 L113.0,367.0 L114.0,366.5 L115.0,366.0 L116.0,365.5 L117.0,365.0 L118.0,364.5 L119.0,364.0 L120.0,363.4 L121.0,362.9 L122.0,362.3 L123.0,361.7 L124.0,361.2 L125.0,360.6 L126.0,360.0 L127.0,359.5 L128.0,358.9 L129.0,358.4 L130.0,357.8 L131.0,357.3 L132.0,356.8 L133.0,356.3 L134.0,355.8 L135.0,355.3 L136.0,354.8 L137.0,354.4 L138.0,353.9 L139.0,353.5 L140.0,353.1 L141.0,352.7 L142.0,352.4 L143.0,352.0 L144.0,351.7 L145.0,351.4 L146.0,351.2 L147.0,351.0 L148.0,350.8 L149.0,350.7 L150.0,350.6 L151.0,350.5 L152.0,350.5 L153.0,350.5 L154.0,350.5 L155.0,350.6 L156.0,350.8 L157.0,351.0 L158.0,351.3 L159.0,351.6 L160.0,351.9 L161.0,352.2 L162.0,352.5 L163.0,352.9 L164.0,353.3 L165.0,353.7 L166.0,354.2 L167.0,354.8 L168.0,355.4 L169.0,356.0 L170.0,356.6 L171.0,357.3 L172.0,358.1 L173.0,358.8 L174.0,359.7 L175.0,360.6 L176.0,361.5 L177.0,362.4 L178.0,363.4 L179.0,364.3 L180.0,365.2 L181.0,366.2 L182.0,367.1 L183.0,368.0 L184.0,368.9 L185.0,369.8 L186.0,370.7 L187.0,371.5 L188.0,372.3 L189.0,373.1 L190.0,373.9 L191.0,374.6 L192.0,375.4 L193.0,376.1 L194.0,376.7 L195.0,377.3 L196.0,377.8 L197.0,378.4 L198.0,378.8 L199.0,379.3 L200.0,379.7 L201.0,380.1 L202.0,380.5 L203.0,380.8 L204.0,381.0 L205.0,381.3 L206.0,381.5 L207.0,381.7 L208.0,381.9 L209.0,382.0 L210.0,382.1 L211.0,382.2 L212.0,382.2 L213.0,382.3 L214.0,382.3 L215.0,382.3 L216.0,382.3 L217.0,382.3 L218.0,382.3 L219.0,382.3 L220.0,382.2 L221.0,382.2 L222.0,382.1 L223.0,382.0 L224.0,382.0 L225.0,381.9 L226.0,381.7 L227.0,381.6 L228.0,381.5 L229.0,381.4 L230.0,381.3 L231.0,381.1 L232.0,381.0 L233.0,380.8 L234.0,380.7 L235.0,380.5 L236.0,380.4 L237.0,380.2 L238.0,379.9 L239.0,379.7 L240.0,379.4 L241.0,379.1 L242.0,378.9 L243.0,378.7 L244.0,378.6 L245.0,378.4 L246.0,378.2 L247.0,378.1 L248.0,377.9 L249.0,377.8 L250.0,377.6 L251.0,377.4 L252.0,377.3 L253.0,377.1 L254.0,377.0 L255.0,376.8 L256.0,376.6 L257.0,376.5 L258.0,376.3 L259.0,376.2 L260.0,376.0 L261.0,375.8 L262.0,375.7 L263.0,375.5 L264.0,375.4 L265.0,375.2 L266.0,375.0 L267.0,374.9 L268.0,374.7 L269.0,374.5 L270.0,374.4 L271.0,374.2 L272.0,374.0 L273.0,373.9 L274.0,373.7 L275.0,373.5 L276.0,373.4 L277.0,373.2 L278.0,373.0 L279.0,372.9 L280.0,372.7 L281.0,372.5 L282.0,372.4 L283.0,372.2 L284.0,372.0 L285.0,371.9 L286.0,371.7 L287.0,371.5 L288.0,371.4 L289.0,371.2 L290.0,371.1 L291.0,371.0 L292.0,370.9 L293.0,370.8 L294.0,370.8 L295.0,370.7 L296.0,370.6 L297.0,370.6 L298.0,370.5 L299.0,370.4 L300.0,370.4 L301.0,370.3 L302.0,370.2 L303.0,370.2 L304.0,370.1 L305.0,370.1 L306.0,370.0 L307.0,370.0 L308.0,369.9 L309.0,369.8 L310.0,369.8 L311.0,369.7 L312.0,369.7 L313.0,369.6 L314.0,369.6 L315.0,369.6 L316.0,369.6 L317.0,369.6 L318.0,369.6 L319.0,369.6 L320.0,369.6 L321.0,369.6 L322.0,369.6 L323.0,369.7 L324.0,369.7 L325.0,369.7 L326.0,369.7 L327.0,369.8 L328.0,369.8 L329.0,369.9 L330.0,370.0 L331.0,370.1 L332.0,370.2 L333.0,370.3 L334.0,370.5 L335.0,370.7 L336.0,370.8 L337.0,371.0 L338.0,371.2 L339.0,371.4 L340.0,371.6 L341.0,371.8 L342.0,372.0 L343.0,372.2 L344.0,372.4 L345.0,372.6 L346.0,372.9 L347.0,373.1 L348.0,373.3 L349.0,373.6 L350.0,373.8 L351.0,374.1 L352.0,374.3 L353.0,374.5 L354.0,374.8 L355.0,375.0 L356.0,375.2 L357.0,375.4 L358.0,375.6 L359.0,375.8 L360.0,376.0 L361.0,376.2 L362.0,376.4 L363.0,376.6 L364.0,376.8 L365.0,377.0 L366.0,377.2 L367.0,377.4 L368.0,377.6 L369.0,377.8 L370.0,378.0 L371.0,378.2 L372.0,378.4 L373.0,378.6 L374.0,378.8 L375.0,379.0 L376.0,379.2 L377.0,379.4 L378.0,379.6 L379.0,379.8 L380.0,380.0 L381.0,380.2 L382.0,380.4 L383.0,380.6 L384.0,380.8 L385.0,381.0 L386.0,381.2 L387.0,381.4 L388.0,381.6 L389.0,381.8 L390.0,382.0 L391.0,382.2 L392.0,382.4 L393.0,382.6 L394.0,382.8 L395.0,382.9 L396.0,383.1 L397.0,383.3 L398.0,383.4 L399.0,383.6 L400.0,383.7 L401.0,383.8 L402.0,383.9 L403.0,384.1 L404.0,384.2 L405.0,384.3 L406.0,384.4 L407.0,384.6 L408.0,384.7 L409.0,384.8 L410.0,384.9 L411.0,385.0 L412.0,385.2 L413.0,385.3 L414.0,385.4 L415.0,385.5 L416.0,385.7 L417.0,385.8 L418.0,386.0 L419.0,386.2 L420.0,386.4 L421.0,386.6 L422.0,386.9 L423.0,387.2 L424.0,387.4 L425.0,387.6 L426.0,387.8 L427.0,388.0 L428.0,388.1 L429.0,388.2 L430.0,388.3 L431.0,388.5 L432.0,388.6 L433.0,388.7 L434.0,388.8 L435.0,388.9 L436.0,389.0 L437.0,389.1 L438.0,389.2 L439.0,389.3 L440.0,389.4 L441.0,389.6 L442.0,389.7 L443.0,389.8 L444.0,389.8 L445.0,389.9 L446.0,389.9 L447.0,390.0 L448.0,390.0 L449.0,390.0 L450.0,390.0 L451.0,390.0 L452.0,390.0 L453.0,390.0 L454.0,390.0 L455.0,390.0 L456.0,390.0 L457.0,390.0 L458.0,390.0 L459.0,390.0 L460.0,390.0 L461.0,390.0 L462.0,390.0 L463.0,390.0 L464.0,390.0 L465.0,390.0 L466.0,390.0 L467.0,390.0 L468.0,390.0 L469.0,390.0 L470.0,390.0 L471.0,390.0 L472.0,390.0 L473.0,390.0 L474.0,390.0 L475.0,390.0 L476.0,390.0 L477.0,390.0 L478.0,390.0 L479.0,390.0 L480.0,390.0 L481.0,390.0 L482.0,390.0 L483.0,389.9 L484.0,389.9 L485.0,389.9 L486.0,389.9 L487.0,389.9 L488.0,389.9 L489.0,389.9 L490.0,389.9 L491.0,389.9 L492.0,389.9 L493.0,389.9 L494.0,389.9 L495.0,389.9 L496.0,389.9 L497.0,389.9 L498.0,389.9 L499.0,389.9 L500.0,389.9 L501.0,389.9 L502.0,389.9 L503.0,389.9 L504.0,389.9 L505.0,389.9 L506.0,389.9 L507.0,389.9 L508.0,389.9 L509.0,389.9 L510.0,389.9 L511.0,389.9 L512.0,389.9 L513.0,389.9 L514.0,389.9 L515.0,389.9 L516.0,389.9 L517.0,389.9 L518.0,389.9 L519.0,389.9 L520.0,389.9"/>
<path stroke="#520FE0" d="M67.0,355.6 L68.0,356.2 L69.0,356.9 L70.0,357.7 L71.0,358.6 L72.0,359.5 L73.0,360.3 L74.0,361.1 L75.0,361.9 L76.0,362.7 L77.0,363.4 L78.0,364.2 L79.0,364.9 L80.0,365.5 L81.0,366.2 L82.0,366.8 L83.0,367.4 L84.0,368.0 L85.0,368.5 L86.0,369.1 L87.0,369.7 L88.0,370.3 L89.0,370.9 L90.0,371.4 L91.0,371.9 L92.0,372.4 L93.0,372.7 L94.0,372.9 L95.0,372.9 L96.0,372.9 L97.0,372.9 L98.0,372.8 L99.0,372.6 L100.0,372.4 L101.0,372.2 L102.0,372.0 L103.0,371.7 L104.0,371.4 L105.0,371.1 L106.0,370.8 L107.0,370.4 L108.0,370.1 L109.0,369.7 L110.0,369.3 L111.0,368.9 L112.0,368.5 L113.0,368.0 L114.0,367.5 L115.0,367.0 L116.0,366.5 L117.0,366.0 L118.0,365.5 L119.0,365.0 L120.0,364.4 L121.0,363.9 L122.0,363.3 L123.0,362.7 L124.0,362.2 L125.0,361.6 L126.0,361.0 L127.0,360.5 L128.0,359.9 L129.0,359.4 L130.0,358.8 L131.0,358.3 L132.0,357.8 L133.0,357.3 L134.0,356.8 L135.0,356.3 L136.0,355.8 L137.0,355.4 L138.0,354.9 L139.0,354.5 L140.0,354.1 L141.0,353.7 L142.0,353.4 L143.0,353.0 L144.0,352.7 L145.0,352.4 L146.0,352.2 L147.0,352.0 L148.0,351.8 L149.0,351.7 L150.0,351.6 L151.0,351.5 L152.0,351.5 L153.0,351.5 L154.0,351.5 L155.0,351.6 L156.0,351.8 L157.0,352.0 L158.0,352.3 L159.0,352.6 L160.0,352.9 L161.0,353.2 L162.0,353.5 L163.0,353.9 L164.0,354.2 L165.0,354.6 L166.0,355.1 L167.0,355.5 L168.0,356.0 L169.0,356.5 L170.0,357.1 L171.0,357.7 L172.0,358.3 L173.0,359.1 L174.0,360.0 L175.0,360.9 L176.0,361.9 L177.0,362.9 L178.0,363.8 L179.0,364.8 L180.0,365.8 L181.0,366.7 L182.0,367.6 L183.0,368.5 L184.0,369.4 L185.0,370.3 L186.0,371.1 L187.0,372.0 L188.0,372.8 L189.0,373.6 L190.0,374.4 L191.0,375.2 L192.0,376.0 L193.0,376.7 L194.0,377.5 L195.0,378.1 L196.0,378.8 L197.0,379.4 L198.0,380.0 L199.0,380.6 L200.0,381.2 L201.0,381.7 L202.0,382.1 L203.0,382.5 L204.0,382.9 L205.0,383.2 L206.0,383.5 L207.0,383.7 L208.0,384.0 L209.0,384.2 L210.0,384.4 L211.0,384.5 L212.0,384.6 L213.0,384.7 L214.0,384.8 L215.0,384.8 L216.0,384.9 L217.0,384.9 L218.0,384.9 L219.0,384.8 L220.0,384.8 L221.0,384.7 L222.0,384.7 L223.0,384.6 L224.0,384.5 L225.0,384.4 L226.0,384.4 L227.0,384.3 L228.0,384.2 L229.0,384.1 L230.0,384.0 L231.0,384.0 L232.0,383.9 L233.0,383.8 L234.0,383.8 L235.0,383.7 L236.0,383.6 L237.0,383.6 L238.0,383.5 L239.0,383.4 L240.0,383.4 L241.0,383.3 L242.0,383.3 L243.0,383.2 L244.0,383.1 L245.0,383.0 L246.0,382.8 L247.0,382.7 L248.0,382.5 L249.0,382.3 L250.0,382.1 L251.0,381.9 L252.0,381.7 L253.0,381.5 L254.0,381.3 L255.0,381.1 L256.0,380.8 L257.0,380.6 L258.0,380.4 L259.0,380.2 L260.0,380.0 L261.0,379.8 L262.0,379.6 L263.0,379.4 L264.0,379.2 L265.0,379.0 L266.0,378.8 L267.0,378.7 L268.0,378.5 L269.0,378.3 L270.0,378.1 L271.0,378.0 L272.0,377.8 L273.0,377.6 L274.0,377.4 L275.0,377.3 L276.0,377.1 L277.0,377.0 L278.0,376.9 L279.0,376.7 L280.0,376.7 L281.0,376.6 L282.0,376.5 L283.0,376.5 L284.0,376.4 L285.0,376.3 L286.0,376.3 L287.0,376.2 L288.0,376.1 L289.0,376.1 L290.0,376.0 L291.0,376.0 L292.0,376.0 L293.0,375.9 L294.0,375.9 L295.0,375.9 L296.0,375.9 L297.0,375.8 L298.0,375.8 L299.0,375.8 L300.0,375.8 L301.0,375.7 L302.0,375.7 L303.0,375.7 L304.0,375.7 L305.0,375.6 L306.0,375.6 L307.0,375.6 L308.0,375.6 L309.0,375.5 L310.0,375.5 L311.0,375.5 L312.0,375.5 L313.0,375.5 L314.0,375.4 L315.0,375.4 L316.0,375.4 L317.0,375.4 L318.0,375.4 L319.0,375.5 L320.0,375.5 L321.0,375.5 L322.0,375.5 L323.0,375.5 L324.0,375.5 L325.0,375.5 L326.0,375.5 L327.0,375.6 L328.0,375.6 L329.0,375.6 L330.0,375.7 L331.0,375.8 L332.0,375.9 L333.0,376.1 L334.0,376.2 L335.0,376.3 L336.0,376.5 L337.0,376.6 L338.0,376.8 L339.0,376.9 L340.0,377.1 L341.0,377.2 L342.0,377.4 L343.0,377.5 L344.0,377.7 L345.0,377.8 L346.0,378.0 L347.0,378.1 L348.0,378.3 L349.0,378.4 L350.0,378.6 L351.0,378.7 L352.0,378.9 L353.0,379.0 L354.0,379.2 L355.0,379.3 L356.0,379.5 L357.0,379.6 L358.0,379.8 L359.0,379.9 L360.0,380.1 L361.0,380.2 L362.0,380.4 L363.0,380.5 L364.0,380.7 L365.0,380.8 L366.0,381.0 L367.0,381.1 L368.0,381.2 L369.0,381.4 L370.0,381.5 L371.0,381.7 L372.0,381.8 L373.0,382.0 L374.0,382.1 L375.0,382.3 L376.0,382.4 L377.0,382.5 L378.0,382.7 L379.0,382.8 L380.0,382.9 L381.0,383.1 L382.0,383.2 L383.0,383.3 L384.0,383.4 L385.0,383.6 L386.0,383.7 L387.0,383.8 L388.0,384.0 L389.0,384.1 L390.0,384.2 L391.0,384.4 L392.0,384.5 L393.0,384.6 L394.0,384.7 L395.0,384.9 L396.0,385.0 L397.0,385.1 L398.0,385.2 L399.0,385.3 L400.0,385.4 L401.0,385.5 L402.0,385.6 L403.0,385.7 L404.0,385.8 L405.0,385.9 L406.0,386.0 L407.0,386.1 L408.0,386.2 L409.0,386.3 L410.0,386.4 L411.0,386.5 L412.0,386.5 L413.0,386.6 L414.0,386.7 L415.0,386.8 L416.0,386.9 L417.0,387.0 L418.0,387.1 L419.0,387.2 L420.0,387.2 L421.0,387.3 L422.0,387.4 L423.0,387.4 L424.0,387.5 L425.0,387.5 L426.0,387.6 L427.0,387.6 L428.0,387.7 L429.0,387.8 L430.0,387.9 L431.0,388.0 L432.0,388.2 L433.0,388.4 L434.0,388.5 L435.0,388.7 L436.0,388.9 L437.0,389.1 L438.0,389.2 L439.0,389.4 L440.0,389.6 L441.0,389.8 L442.0,389.9 L443.0,390.1 L444.0,390.2 L445.0,390.3 L446.0,390.4 L447.0,390.4 L448.0,390.5 L449.0,390.5 L450.0,390.5 L451.0,390.5 L452.0,390.4 L453.0,390.4 L454.0,390.4 L455.0,390.4 L456.0,390.4 L457.0,390.4 L458.0,390.4 L459.0,390.4 L460.0,390.4 L461.0,390.4 L462.0,390.4 L463.0,390.4 L464.0,390.3 L465.0,390.3 L466.0,390.3 L467.0,390.3 L468.0,390.3 L469.0,390.3 L470.0,390.3 L471.0,390.3 L472.0,390.3 L473.0,390.3 L474.0,390.3 L475.0,390.3 L476.0,390.3 L477.0,390.2 L478.0,390.2 L479.0,390.2 L480.0,390.2 L481.0,390.2 L482.0,390.2 L483.0,390.2 L484.0,390.2 L485.0,390.2 L486.0,390.2 L487.0,390.2 L488.0,390.2 L489.0,390.1 L490.0,390.1 L491.0,390.1 L492.0,390.1 L493.0,390.1 L494.0,390.1 L495.0,390.1 L496.0,390.1 L497.0,390.1 L498.0,390.1 L499.0,390.1 L500.0,390.1 L501.0,390.1 L502.0,390.0 L503.0,390.0 L504.0,390.0 L505.0,390.0 L506.0,390.0 L507.0,390.0 L508.0,390.0 L509.0,390.0 L510.0,390.0 L511.0,390.0 L512.0,390.0 L513.0,390.0 L514.0,389.9 L515.0,389.9 L516.0,389.9 L517.0,389.9 L518.0,389.9 L519.0,389.9 L520.0,389.9"/>
</g>
<path d="M67,24 V393.3 M520,24 V393.3" stroke="#000" stroke-width="2" fill="none"/>
<g fill="#000" stroke="none">
<rect x="312.9" y="88" width="3.5" height="170"/>
<path d="M309.9,256.6 L319.8,256.6 L314.7,272.6 Z" stroke="#000" stroke-width="0.6" stroke-linejoin="round"/>
<rect x="145.5" y="368" width="3.5" height="22.5"/>
<path d="M142.9,372.3 L151.8,372.3 L147.3,355.4 Z" stroke="#000" stroke-width="0.6" stroke-linejoin="round"/>
</g>
<rect x="392" y="44.3" width="40" height="3.2" fill="#FFD2FA"/>
<rect x="432" y="44.3" width="8" height="3.2" fill="#FFEEFC"/>
<rect x="392" y="63.9" width="40" height="4.9" fill="#BEFFFF"/>
<rect x="392" y="73" width="40" height="5" fill="#E8FFFF"/>
<rect x="392" y="130.5" width="48" height="4" fill="#FFEEFC"/>
<rect x="392" y="152" width="40" height="14" fill="#EAFFFF"/>
<rect x="392" y="219" width="48" height="3" fill="#FFEEFC"/>
<g stroke-width="3.4" stroke-linecap="round">
<path stroke="#9A2E0C" d="M393.5,42.4 H434.8"/>
<path stroke="#55C819" d="M393.5,70.4 H434.8"/>
<path stroke="#1008D8" d="M393.5,100.5 H434.8"/>
<path stroke="#461505" d="M393.5,129.3 H434.8"/>
<path stroke="#2A5C10" d="M393.5,159 H434.8"/>
<path stroke="#060068" d="M393.5,187.4 H434.8"/>
<path stroke="#520FE0" d="M393.5,217.2 H434.8"/>
</g>
<g style="font-family:'Liberation Serif',serif;font-size:24px;letter-spacing:-0.3px" fill="#000">
<text x="439.6" y="48.9">0.0 min</text>
<text x="439.6" y="76.9">0.5 min</text>
<text x="439.6" y="107.0">1.0 min</text>
<text x="439.6" y="135.8">1.5 min</text>
<text x="439.6" y="165.5">2.0 min</text>
<text x="439.6" y="193.9">2.5 min</text>
<text x="439.6" y="223.7">3.0 min</text>
</g>
<text style="font-family:'Liberation Serif',serif;font-size:23.65px" x="236.1" y="436.5">Wavelength (nm)</text>
<text style="font-family:'Liberation Serif',serif;font-size:23.8px" transform="translate(30.3,262.2) rotate(-90)">Absorbance</text>
</svg>
</body></html>
